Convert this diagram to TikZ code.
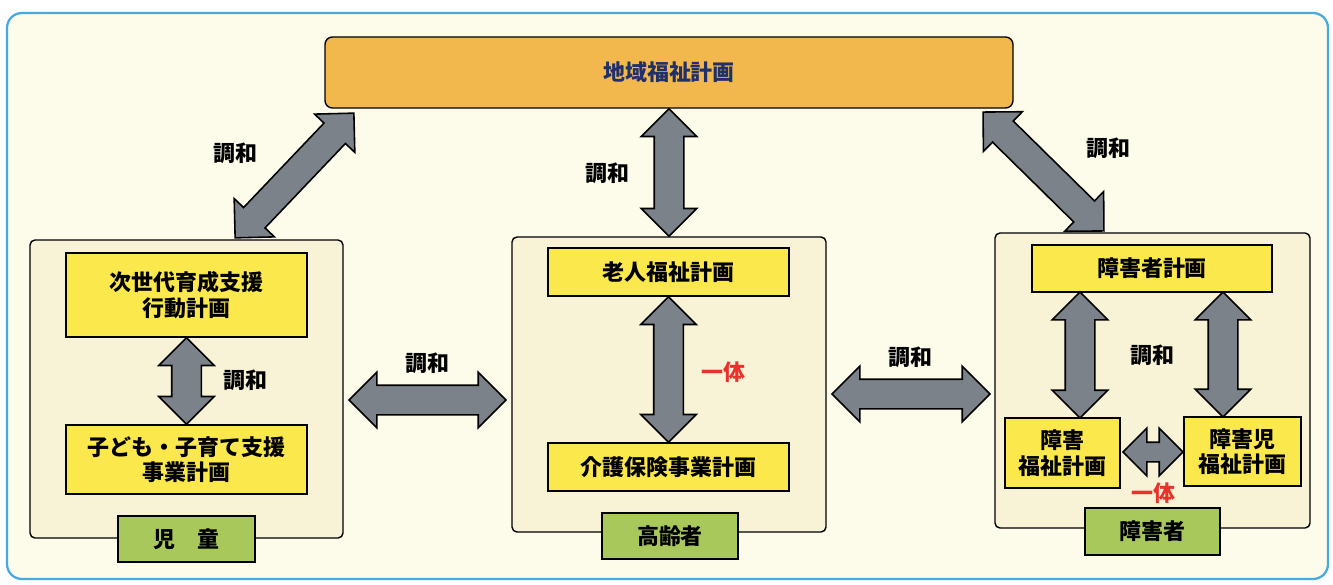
\documentclass[tikz,border=0pt]{standalone}
\usepackage{fontspec}
\setmainfont{Noto Sans CJK JP}
\usetikzlibrary{shapes.arrows,calc}

\definecolor{cream}{HTML}{FDFBEA}
\definecolor{panelfill}{HTML}{F8F3D6}
\definecolor{planyellow}{HTML}{FBE84C}
\definecolor{baror}{HTML}{F2B84E}
\definecolor{labgreen}{HTML}{A8C85C}
\definecolor{arrgray}{HTML}{7C828A}
\definecolor{framblue}{HTML}{45AADF}
\definecolor{ittaired}{HTML}{E8332C}
\definecolor{navytxt}{HTML}{22306A}

\newcommand\fatarrow[3][]{%
  \path let \p1=($(#3)-(#2)$), \n1={veclen(\x1,\y1)}, \n2={atan2(\y1,\x1)} in
    node[fatarr,#1,minimum height={\n1},rotate={\n2}] at ($(#2)!0.5!(#3)$) {};}

\begin{document}
\begin{tikzpicture}[x=0.2mm,y=-0.2mm,
    jptext/.style={font=\fontsize{12.5}{14.5}\selectfont\bfseries},
    panel/.style={draw=black,fill=panelfill,line width=0.8pt,rounded corners=1mm,inner sep=0},
    plan/.style={draw=black,fill=planyellow,line width=0.8pt,inner sep=0,align=center,jptext},
    grouplab/.style={draw=black,fill=labgreen,line width=0.8pt,inner sep=0,jptext},
    fatarr/.style={shape=double arrow,draw=black,fill=arrgray,line width=0.9pt,
      inner xsep=0,inner ysep=2.8mm,minimum width=0,
      double arrow head extend=2.6mm,double arrow tip angle=90},
    smallarr/.style={inner ysep=1.8mm,double arrow head extend=2.8mm},
    chowa/.style={jptext},
    itta/.style={jptext,text=ittaired}]

  \fill[white] (0,0) rectangle (1333,584);
  \draw[draw=framblue,fill=cream,line width=0.45mm,rounded corners=3mm] (7,13) rectangle (1328,579);

  \node[draw=black,fill=baror,line width=0.8pt,rounded corners=1.5mm,inner sep=0,
    minimum width=137.6mm,minimum height=14.2mm,jptext,text=navytxt] (chiiki) at (669,72.5) {地域福祉計画};

  \node[panel,minimum width=62.6mm,minimum height=59.6mm] (jidouP) at (186.5,389) {};
  \node[plan,minimum width=48.2mm,minimum height=16.8mm] (jisedai) at (186.5,295) {次世代育成支援\\行動計画};
  \node[plan,minimum width=48.2mm,minimum height=13.8mm] (kodomo) at (186.5,459.5) {子ども・子育て支援\\事業計画};
  \node[grouplab,minimum width=27.4mm,minimum height=9.2mm] (jidou) at (186.5,539) {児　童};

  \node[panel,minimum width=62.8mm,minimum height=59mm] (koreiP) at (669,384.5) {};
  \node[plan,minimum width=48.2mm,minimum height=9.6mm] (rojin) at (668.5,272) {老人福祉計画};
  \node[plan,minimum width=48.2mm,minimum height=9.6mm] (kaigo) at (668.5,467) {介護保険事業計画};
  \node[grouplab,minimum width=27.2mm,minimum height=9.2mm] (korei) at (670,536) {高齢者};

  \node[panel,minimum width=63mm,minimum height=59mm] (shogaiP) at (1152.5,380.5) {};
  \node[plan,minimum width=48mm,minimum height=9.4mm] (shokei) at (1152,268.5) {障害者計画};
  \node[plan,minimum width=23mm,minimum height=14mm] (shofuku) at (1062.5,453) {障害\\福祉計画};
  \node[plan,minimum width=23.4mm,minimum height=13.8mm] (shojifuku) at (1242.5,451.5) {障害児\\福祉計画};
  \node[grouplab,minimum width=27mm,minimum height=9.4mm] (shogai) at (1152.5,531.5) {障害者};

  \coordinate (dla) at (235,238);
  \coordinate (dlb) at (354,113);
  \coordinate (dra) at (983,112);
  \coordinate (drb) at (1104,231);
  \coordinate (hla) at (349,400);
  \coordinate (hlb) at (506,400);
  \coordinate (hra) at (832,394);
  \coordinate (hrb) at (990,394);
  \coordinate (vla) at (1080,292);
  \coordinate (vlb) at (1080,418);
  \coordinate (vra) at (1223,292);
  \coordinate (vrb) at (1223,417);
  \coordinate (sma) at (1123,452);
  \coordinate (smb) at (1183,452);

  \fatarrow{dla}{dlb}
  \fatarrow{dra}{drb}
  \fatarrow{chiiki.south}{koreiP.north}
  \fatarrow{jisedai.south}{kodomo.north}
  \fatarrow{rojin.south}{kaigo.north}
  \fatarrow{hla}{hlb}
  \fatarrow{hra}{hrb}
  \fatarrow{vla}{vlb}
  \fatarrow{vra}{vrb}
  \fatarrow[smallarr]{sma}{smb}

  \node[chowa] (c1) at (235,153) {調和};
  \node[chowa] (c2) at (607,173) {調和};
  \node[chowa] (c3) at (1108,148) {調和};
  \node[chowa] (c4) at (245,380) {調和};
  \node[chowa] (c5) at (427,363) {調和};
  \node[chowa] (c6) at (910,357) {調和};
  \node[chowa] (c7) at (1152,355) {調和};
  \node[itta] (i1) at (723,372) {一体};
  \node[itta] (i2) at (1153,493) {一体};
\end{tikzpicture}
\end{document}
